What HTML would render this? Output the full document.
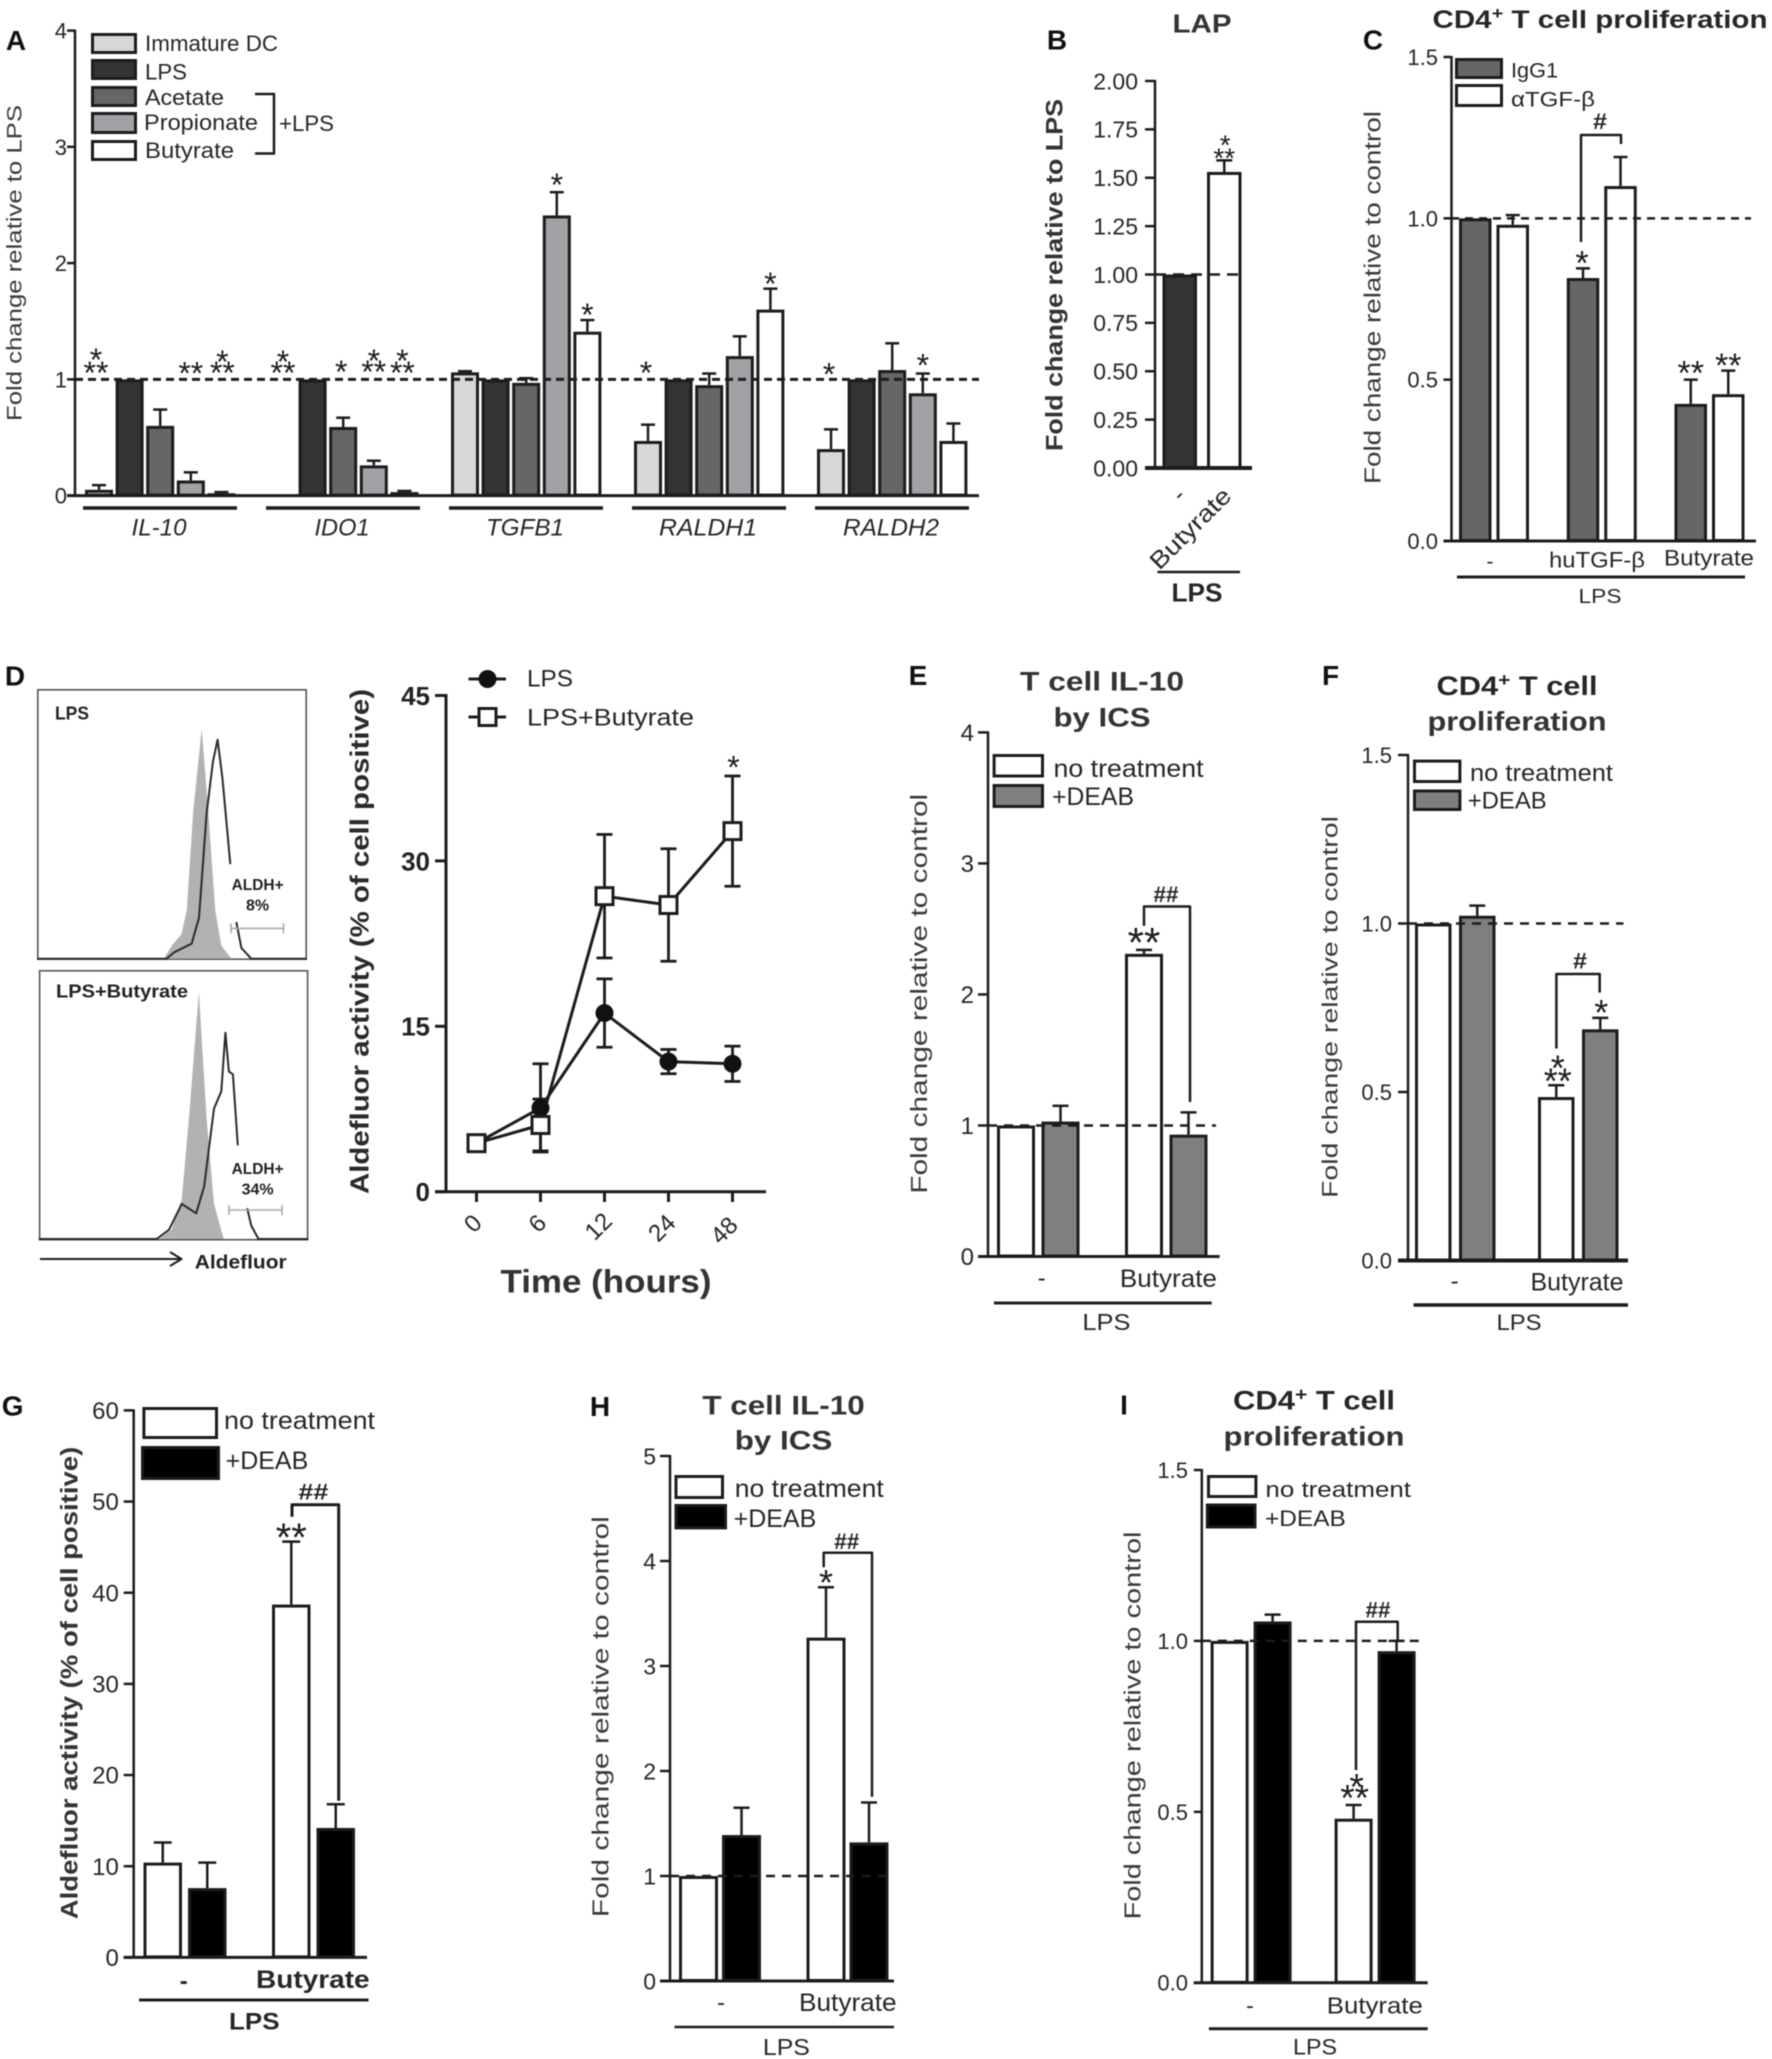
<!DOCTYPE html>
<html lang="en">
<head>
<meta charset="utf-8">
<title>Butyrate effects on dendritic cells and T cells</title>
<style>
html,body{margin:0;padding:0;background:#fff;}
#figure{display:block;width:1772px;height:2059px;filter:blur(0.55px);}
text{font-family:"Liberation Sans",Arial,sans-serif;}
</style>
</head>
<body>
<svg id="figure" xmlns="http://www.w3.org/2000/svg" width="1772" height="2059" viewBox="0 0 1772 2059"></svg>
<script>
/* ---------- DATA ---------- */
const panelAGenes = ['IL-10','IDO1','TGFB1','RALDH1','RALDH2'];
const panelASeries = ['Immature DC','LPS','Acetate','Propionate','Butyrate'];
const panelATicks = [0,1,2,3,4];
const panelAImmature = [0.05,0,1.06,0.47,0.40];
const panelAImmatureErr = [0.04,0,0.01,0.14,0.17];
const panelALps = [1,1,1,1,1];
const panelALpsErr = [0,0,0,0,0];
const panelAAcetate = [0.60,0.59,0.97,0.95,1.08];
const panelAAcetateErr = [0.14,0.08,0.04,0.10,0.23];
const panelAPropionate = [0.13,0.26,2.41,1.20,0.88];
const panelAPropionateErr = [0.07,0.04,0.20,0.17,0.17];
const panelAButyrate = [0.02,0.03,1.41,1.60,0.47];
const panelAButyrateErr = [0.01,0.01,0.10,0.18,0.15];

const panelBCategories = ['-','Butyrate'];
const panelBTicks = [0,0.25,0.5,0.75,1,1.25,1.5,1.75,2];
const panelBTickLabels = ['0.00','0.25','0.50','0.75','1.00','1.25','1.50','1.75','2.00'];
const panelBLps = [1];
const panelBLpsErr = [0];
const panelBButyrate = [1.53];
const panelBButyrateErr = [0.06];

const panelCCategories = ['-','huTGF-β','Butyrate'];
const panelCTicks = [0,0.5,1,1.5];
const panelCTickLabels = ['0.0','0.5','1.0','1.5'];
const panelCIgg = [1,0.815,0.425];
const panelCIggErr = [0,0.03,0.075];
const panelCAnti = [0.98,1.10,0.455];
const panelCAntiErr = [0.03,0.09,0.073];

const panelDTimes = ['0','6','12','24','48'];
const panelDTicks = [0,15,30,45];
const panelDLps = [4.4,7.6,16.2,11.8,11.6];
const panelDLpsErr = [0,4.0,3.1,1.1,1.6];
const panelDBut = [4.4,6.05,26.8,26.0,32.7];
const panelDButErr = [0,2.35,5.6,5.1,5.0];

const histLpsFillInt = [47,50,53.5,55.5,57.8,61,63.5,66,68.3,72];
const histLpsFillCount = [0,5,9,18,54,85,54,18,4.8,0];
const histLpsLineInt = [0,48,50.8,57.3,60,62.8,65.2,66.9,68.7,71.6];
const histLpsLineCount = [0,0,2.4,5.6,15.2,53.7,73,81,66.5,35];
const histLpsTailInt = [73.8,75.7,79.4,100];
const histLpsTailCount = [13.6,4,0,0];
const histButFillInt = [44.6,49.3,53,55.7,59.4,62.2,65,68.6];
const histButFillCount = [0,3.4,14.6,45,91.6,45,13,0];
const histButLineInt = [0,43.7,48.3,53,58.4,61.3,65,67.7,69.2,70.5,72,73.8];
const histButLineCount = [0,0,3.4,13,9.5,19.4,48.3,54.7,76.4,62,61,34.7];
const histButTailInt = [77.3,78.8,81.5,100];
const histButTailCount = [11.4,5,0,0];

const panelECategories = ['-','Butyrate'];
const panelETicks = [0,1,2,3,4];
const panelENone = [1,2.31];
const panelENoneErr = [0,0.03];
const panelEDeab = [1.03,0.93];
const panelEDeabErr = [0.12,0.17];

const panelFCategories = ['-','Butyrate'];
const panelFTicks = [0,0.5,1,1.5];
const panelFTickLabels = ['0.0','0.5','1.0','1.5'];
const panelFNone = [1,0.485];
const panelFNoneErr = [0,0.035];
const panelFDeab = [1.023,0.686];
const panelFDeabErr = [0.03,0.034];

const panelGCategories = ['-','Butyrate'];
const panelGTicks = [0,10,20,30,40,50,60];
const panelGNone = [10.4,38.7];
const panelGNoneErr = [2.2,6.9];
const panelGDeab = [7.6,14.2];
const panelGDeabErr = [2.8,2.6];

const panelHCategories = ['-','Butyrate'];
const panelHTicks = [0,1,2,3,4,5];
const panelHNone = [1,3.27];
const panelHNoneErr = [0,0.48];
const panelHDeab = [1.39,1.32];
const panelHDeabErr = [0.26,0.38];

const panelICategories = ['-','Butyrate'];
const panelITicks = [0,0.5,1,1.5];
const panelITickLabels = ['0.0','0.5','1.0','1.5'];
const panelINone = [1,0.48];
const panelINoneErr = [0,0.04];
const panelIDeab = [1.057,0.97];
const panelIDeabErr = [0.02,0.03];

/* ---------- HELPERS ---------- */
const NS = 'http://www.w3.org/2000/svg';
const root = document.getElementById('figure');
const INK = '#1c1c1c';

function make(tag, name, parent) {
  const el = document.createElementNS(NS, tag);
  
  
  parent.appendChild(el);
  return el;
}
function group(name, parent) { return make('g', name, parent || root); }
function line(p, name, x1, y1, x2, y2, w, dash, color) {
  const el = make('line', name, p);
  el.setAttribute('x1', x1); el.setAttribute('y1', y1);
  el.setAttribute('x2', x2); el.setAttribute('y2', y2);
  el.setAttribute('stroke', color || INK);
  el.setAttribute('stroke-width', w || 2.5);
  if (dash) el.setAttribute('stroke-dasharray', dash);
  return el;
}
function box(p, name, x1, y1, x2, y2, fill, sw, stroke) {
  const s = sw === undefined ? 3 : sw;
  const el = make('rect', name, p);
  el.setAttribute('x', x1 + s / 2); el.setAttribute('y', y1 + s / 2);
  el.setAttribute('width', Math.max(0, x2 - x1 - s)); el.setAttribute('height', Math.max(0, y2 - y1 - s));
  el.setAttribute('fill', fill);
  el.setAttribute('stroke', stroke || INK);
  el.setAttribute('stroke-width', s);
  return el;
}
function poly(p, name, pts, w, fill, color) {
  const el = make('polyline', name, p);
  el.setAttribute('points', pts.map(function (q) { return q[0].toFixed(1) + ',' + q[1].toFixed(1); }).join(' '));
  el.setAttribute('fill', fill || 'none');
  el.setAttribute('stroke', color || INK);
  el.setAttribute('stroke-width', w || 2.5);
  el.setAttribute('stroke-linejoin', 'round');
  return el;
}
function txt(p, name, str, x, y, o) {
  o = o || {};
  const s = o.s || 22;
  const el = make('text', name, p);
  el.textContent = str;
  el.setAttribute('transform', 'translate(' + x + ' ' + y + ') rotate(' + (o.r || 0) + ')');
  el.setAttribute('x', 0);
  el.setAttribute('y', (o.b === undefined ? 0.36 : o.b) * s);
  el.setAttribute('font-size', s);
  el.setAttribute('text-anchor', o.a || 'middle');
  el.setAttribute('fill', o.f || '#262626');
  if (o.w) el.setAttribute('font-weight', o.w);
  if (o.i) el.setAttribute('font-style', 'italic');
  if (o.l) { el.setAttribute('textLength', o.l); el.setAttribute('lengthAdjust', 'spacingAndGlyphs'); }
  return el;
}
function supTitle(p, name, before, sup, after, x, y, s, len) {
  const el = txt(p, name, '', x, y, {s: s, w: 'bold', l: len});
  const t1 = make('tspan', name + '-main', el);
  t1.textContent = before;
  const t2 = make('tspan', name + '-superscript', el);
  t2.textContent = sup;
  t2.setAttribute('dy', -9);
  t2.setAttribute('font-size', s * 0.68);
  const t3 = make('tspan', name + '-rest', el);
  t3.textContent = after;
  t3.setAttribute('dy', 9);
  return el;
}
function panelLetter(p, letter, x, y) {
  txt(p, 'panel-letter-' + letter.toLowerCase(), letter, x, y, {s: 28, w: 'bold', f: '#111'});
}
function star(p, str, cx, cy, size) {
  const s = size || 30;
  txt(p, 'significance-marker', str, cx, cy, {s: s, b: 0.5, f: '#1c1c1c'});
}
function hash(p, str, cx, cy, len) {
  txt(p, 'difference-marker', str, cx, cy, {s: 22, w: 'bold', l: len, f: '#222'});
}
function bracket(p, x1, y1, yTop, x2, y2, w) {
  poly(p, 'comparison-bracket', [[x1, y1], [x1, yTop], [x2, yTop], [x2, y2]], w || 2.5);
}

/* Bar chart with a linear y axis function and a grouped x axis function */
function barChart(c) {
  const g = c.g;
  const y = function (v) { return c.y0 + (c.yTop - c.y0) * v / c.max; };
  const left = function (gi, si) { return c.start + gi * c.groupStep + si * c.barStep; };
  const center = function (gi, si) { return left(gi, si) + c.barW / 2; };
  c.series.forEach(function (s, si) {
    s.values.forEach(function (v, gi) {
      if (v <= 0) return;
      const er = s.errs[gi];
      if (er > 0) {
        const cx = center(gi, si);
        line(g, 'error-bar-' + s.key, cx, y(v), cx, y(v + er), c.errW || 2.5);
        line(g, 'error-cap-' + s.key, cx - c.cap, y(v + er), cx + c.cap, y(v + er), c.errW || 2.5);
      }
      box(g, 'bar-' + s.key, left(gi, si), y(v), left(gi, si) + c.barW, c.y0 + 1, s.fill, c.barSw || 3);
    });
  });
  if (c.dash) line(g, 'reference-line-at-one', c.dash[0], y(1), c.dash[1], y(1), c.dashW || 2.5, c.dashPat || '8 6');
  line(g, 'y-axis', c.axisX, c.yTop - 1, c.axisX, c.y0 + 1, c.axisW || 2.5);
  line(g, 'x-axis', c.axisX - c.tickLen, c.y0, c.axisEnd, c.y0, c.baseW || 3);
  c.ticks.forEach(function (t, i) {
    line(g, 'y-tick', c.axisX - c.tickLen, y(t), c.axisX, y(t), 2.5);
    txt(g, 'y-tick-label', c.tickLabels ? c.tickLabels[i] : String(t), c.labelRight, y(t), {s: c.tickSize, a: 'end', w: c.tickWeight});
  });
  return {
    y: y, left: left, center: center,
    top: function (gi, si) { const s = c.series[si]; return y(s.values[gi] + s.errs[gi]); },
    star: function (gi, si, str, dy, dx) { star(g, str, center(gi, si) + (dx || 0), this.top(gi, si) - dy, c.starSize); }
  };
}
function legendRow(p, key, label, x1, y1, x2, y2, fill, tx, ty, s, len, sw) {
  box(p, 'legend-swatch-' + key, x1, y1, x2, y2, fill, sw === undefined ? 3 : sw);
  txt(p, 'legend-label-' + key, label, tx, ty, {s: s, a: 'start', l: len});
}

/* ---------- PANEL A ---------- */
(function () {
  const g = group('panel-a');
  const fills = ['#d7d7d7','#333333','#666666','#a1a1a6','#ffffff'];
  const keys = ['immature-dc','lps','acetate','propionate','butyrate'];
  const vals = [panelAImmature, panelALps, panelAAcetate, panelAPropionate, panelAButyrate];
  const errs = [panelAImmatureErr, panelALpsErr, panelAAcetateErr, panelAPropionateErr, panelAButyrateErr];
  const c = barChart({
    g: g, y0: 495.6, yTop: 30.6, max: 4, axisX: 75, axisEnd: 979, tickLen: 8,
    ticks: panelATicks, tickSize: 22, labelRight: 67, starSize: 32,
    start: 85, groupStep: 183, barStep: 30.6, barW: 28, cap: 7, errW: 2.5,
    dash: [75, 979], dashW: 3, dashPat: '8 5',
    series: panelASeries.map(function (n, i) { return {key: keys[i], fill: fills[i], values: vals[i], errs: errs[i]}; })
  });
  c.star(0,0,'*',130,-3); c.star(0,0,'**',117,-3);
  c.star(0,3,'**',104);
  c.star(0,4,'*',135,1); c.star(0,4,'**',124,1);
  c.star(1,0,'*',138.6,1); c.star(1,0,'**',127.6,1);
  c.star(1,2,'*',50.7,-2);
  c.star(1,3,'*',104.7); c.star(1,3,'**',93.7);
  c.star(1,4,'*',135,-2); c.star(1,4,'**',123,-2);
  c.star(2,3,'*',12); c.star(2,4,'*',10);
  c.star(3,0,'*',56.7,-2); c.star(3,4,'*',9.7);
  c.star(4,0,'*',60,-2); c.star(4,3,'*',13);
  const labelLen = [55,55,78,98,96];
  panelAGenes.forEach(function (name, i) {
    const s = c.left(i, 0);
    line(g, 'gene-group-line', s - 2, 508, s + 152, 508, 3.5);
    txt(g, 'gene-label', name, s + 74, 527, {s: 24, i: true, l: labelLen[i]});
  });
  txt(g, 'y-axis-title', 'Fold change relative to LPS', 14, 263, {s: 21, r: -90, l: 316, f: '#3a3a3a'});
  panelLetter(g, 'A', 16, 40);
  legendRow(g,'immature-dc','Immature DC',91,33,137,54,fills[0],145,43,22,133);
  legendRow(g,'lps','LPS',91,59,137,80,fills[1],145,71.5,22,42);
  legendRow(g,'acetate','Acetate',91,86,137,107,fills[2],145,97,22,79);
  legendRow(g,'propionate','Propionate',91,112,137,134,fills[3],144,122,22,114);
  legendRow(g,'butyrate','Butyrate',91,140,137,161,fills[4],145,150,22,89);
  poly(g,'legend-lps-bracket',[[255,94],[274,94],[274,153.5],[255,153.5]],2.5);
  txt(g,'legend-lps-bracket-label','+LPS',279,123,{s:22,a:'start',l:55});
})();

/* ---------- PANEL B ---------- */
(function () {
  const g = group('panel-b');
  const c = barChart({
    g: g, y0: 468, yTop: 81, max: 2, axisX: 1155, axisEnd: 1252, tickLen: 10,
    ticks: panelBTicks, tickLabels: panelBTickLabels, tickSize: 23, labelRight: 1138, starSize: 28,
    start: 1162.5, groupStep: 0, barStep: 44.5, barW: 34.5, cap: 8, baseW: 4,
    dash: [1155, 1244], dashPat: '11 7',
    series: [
      {key: 'lps', fill: '#333333', values: panelBLps, errs: panelBLpsErr},
      {key: 'butyrate', fill: '#ffffff', values: panelBButyrate, errs: panelBButyrateErr}
    ]
  });
  c.star(0,1,'*',20,1); c.star(0,1,'**',7,0);
  txt(g,'category-label',panelBCategories[0],1178,494,{s:24,r:-45});
  txt(g,'category-label',panelBCategories[1],1190,528,{s:24,r:-45,l:104});
  line(g,'lps-group-line',1157.5,572,1240,572,2.5);
  txt(g,'lps-group-label','LPS',1197,592,{s:26,w:'bold',l:51});
  txt(g,'y-axis-title','Fold change relative to LPS',1054,275,{s:24,r:-90,w:'bold',l:352,f:'#333'});
  txt(g,'chart-title','LAP',1202,23,{s:26,l:59,w:'bold',f:'#333'});
  panelLetter(g,'B',1057,39.5);
})();

/* ---------- PANEL C ---------- */
(function () {
  const g = group('panel-c');
  const c = barChart({
    g: g, y0: 541, yTop: 57, max: 1.5, axisX: 1451.5, axisEnd: 1756, tickLen: 8,
    ticks: panelCTicks, tickLabels: panelCTickLabels, tickSize: 22, labelRight: 1438, starSize: 34,
    start: 1459, groupStep: 107.75, barStep: 37.5, barW: 32.5, cap: 7,
    dash: [1451, 1751],
    series: [
      {key: 'igg1', fill: '#666666', values: panelCIgg, errs: panelCIggErr},
      {key: 'anti-tgf-beta', fill: '#ffffff', values: panelCAnti, errs: panelCAntiErr}
    ]
  });
  c.star(1,0,'*',11,-1);
  c.star(2,0,'**',12); c.star(2,1,'**',10.6);
  const top1 = c.top(1,1);
  bracket(g,1581,242,top1-22,1621,top1-13);
  hash(g,'#',1600,top1-36,14);
  txt(g,'category-label',panelCCategories[0],1490,561,{s:21});
  txt(g,'category-label',panelCCategories[1],1597,559.5,{s:22,l:96});
  txt(g,'category-label',panelCCategories[2],1709,557.5,{s:22,l:90});
  line(g,'lps-group-line',1457,577,1745,577,3);
  txt(g,'lps-group-label','LPS',1600,596,{s:20,l:43});
  txt(g,'y-axis-title','Fold change  relative to control',1372,297.5,{s:23,r:-90,l:373,f:'#3a3a3a'});
  supTitle(g,'chart-title','CD4','+',' T cell proliferation',1600,19,25,335);
  panelLetter(g,'C',1373,39.5);
  legendRow(g,'igg1','IgG1',1455,58,1503,79,'#666666',1511,70,21,47);
  legendRow(g,'anti-tgf-beta','αTGF-β',1455,84,1503,107,'#ffffff',1511,99,21,84);
})();

/* ---------- PANEL D : flow histograms ---------- */
(function () {
  const g = group('panel-d');
  function hist(name, bx, by, bw, bh, base, unit, fi, fc, li, lc, ti, tc, title, titleX, titleY, titleLen, pct, aY, pY, gx1, gx2, gy) {
    const h = group(name, g);
    box(h, 'histogram-frame', bx, by, bx + bw, by + bh, '#ffffff', 1.6, '#555');
    const hx = function (v) { return bx + v * bw / 100; };
    const hy = function (c) { return base - c * unit; };
    const fillEl = make('polygon', 'isotype-histogram-fill', h);
    fillEl.setAttribute('points', fi.map(function (v, i) { return hx(v).toFixed(1) + ',' + hy(fc[i]).toFixed(1); }).join(' '));
    fillEl.setAttribute('fill', '#b2b2b2');
    poly(h, 'aldefluor-histogram-line', li.map(function (v, i) { return [hx(v), hy(lc[i])]; }), 2, 'none', '#2a2a2a');
    poly(h, 'aldefluor-histogram-tail', ti.map(function (v, i) { return [hx(v), hy(tc[i])]; }), 2, 'none', '#2a2a2a');
    txt(h, 'histogram-title', title, titleX, titleY, {s: 18, w: 'bold', l: titleLen, f: '#222'});
    txt(h, 'gate-label', 'ALDH+', 257.6, aY, {s: 16, w: 'bold', l: 52, f: '#222'});
    txt(h, 'gate-percent', pct, 257.6, pY, {s: 16, w: 'bold', f: '#222'});
    line(h, 'gate-line', gx1, gy, gx2, gy, 1.6, null, '#aaa');
    line(h, 'gate-cap-left', gx1, gy - 5, gx1, gy + 5, 1.6, null, '#aaa');
    line(h, 'gate-cap-right', gx2, gy - 5, gx2, gy + 5, 1.6, null, '#aaa');
  }
  hist('histogram-lps', 37, 689, 270, 271, 958.8, 2.706,
    histLpsFillInt, histLpsFillCount, histLpsLineInt, histLpsLineCount, histLpsTailInt, histLpsTailCount,
    'LPS', 72, 713, 34, '8%', 884, 904.5, 231, 283.5, 928.4);
  hist('histogram-lps-butyrate', 38.8, 970, 269.6, 270.5, 1239, 2.70,
    histButFillInt, histButFillCount, histButLineInt, histButLineCount, histButTailInt, histButTailCount,
    'LPS+Butyrate', 122, 991, 132, '34%', 1168, 1188.6, 229, 282, 1210);
  line(g,'aldefluor-arrow-shaft',40,1259,181,1259,2);
  poly(g,'aldefluor-arrow-head',[[170,1252],[181.5,1259],[170,1266]],2);
  txt(g,'aldefluor-axis-label','Aldefluor',240.7,1261.5,{s:19,w:'bold',l:92,f:'#222'});
  panelLetter(g,'D',15,675.5);
})();

/* ---------- PANEL D : time course ---------- */
(function () {
  const g = group('panel-d-time-course');
  const y = function (v) { return 1191.7 - v * 11.027; };
  const x = function (i) { return 476.5 + i * 64; };
  const labelPos = [[472.5,1223],[537,1223],[598,1226],[661.5,1227.6],[723.7,1230]];
  function errs(vals, er, key) {
    vals.forEach(function (v, i) {
      if (er[i] <= 0) return;
      line(g, 'error-bar-' + key, x(i), y(v - er[i]), x(i), y(v + er[i]), 2.8);
      line(g, 'error-cap-' + key, x(i) - 8, y(v + er[i]), x(i) + 8, y(v + er[i]), 2.8);
      line(g, 'error-cap-' + key, x(i) - 8, y(v - er[i]), x(i) + 8, y(v - er[i]), 2.8);
    });
  }
  errs(panelDLps, panelDLpsErr, 'lps');
  errs(panelDBut, panelDButErr, 'lps-butyrate');
  poly(g,'series-line-lps',panelDLps.map(function (v,i){return [x(i),y(v)];}),3);
  poly(g,'series-line-lps-butyrate',panelDBut.map(function (v,i){return [x(i),y(v)];}),3);
  function circle(cx, cy, name) {
    const el = make('circle', name, g);
    el.setAttribute('cx', cx); el.setAttribute('cy', cy); el.setAttribute('r', 9);
    el.setAttribute('fill', '#111');
  }
  function square(cx, cy, name) {
    box(g, name, cx - 10, cy - 10, cx + 10, cy + 10, '#ffffff', 3);
  }
  panelDLps.forEach(function (v, i) { circle(x(i), y(v), 'point-lps'); });
  panelDBut.forEach(function (v, i) { square(x(i), y(v), 'point-lps-butyrate'); });
  line(g,'y-axis',446,694,446,1193,3);
  line(g,'x-axis',435,1191.7,766,1191.7,3);
  panelDTicks.forEach(function (t) {
    line(g,'y-tick',435,y(t),446,y(t),3);
    txt(g,'y-tick-label',String(t),430,y(t),{s:26,a:'end',w:'bold',f:'#222'});
  });
  panelDTimes.forEach(function (t, i) {
    line(g,'x-tick',x(i),1191.7,x(i),1202,3);
    txt(g,'x-tick-label',t,labelPos[i][0],labelPos[i][1],{s:24,r:-45});
  });
  star(g,'*',x(4)+1,y(panelDBut[4]+panelDButErr[4])-13.5,32);
  txt(g,'y-axis-title','Aldefluor activity (% of cell positive)',359,941.5,{s:26,r:-90,w:'bold',l:505,f:'#2a2a2a'});
  txt(g,'x-axis-title','Time (hours)',606,1281,{s:32,w:'bold',l:211,f:'#333'});
  line(g,'legend-line-lps',468.5,679,506,679,3);
  circle(487.5,679,'legend-marker-lps');
  txt(g,'legend-label-lps','LPS',527,678,{s:24,a:'start',l:46});
  line(g,'legend-line-lps-butyrate',468.5,717,506,717,3);
  square(487.5,717,'legend-marker-lps-butyrate');
  txt(g,'legend-label-lps-butyrate','LPS+Butyrate',527,717,{s:24,a:'start',l:167});
})();

/* ---------- PANEL E ---------- */
(function () {
  const g = group('panel-e');
  const c = barChart({
    g: g, y0: 1256.5, yTop: 732.4, max: 4, axisX: 988, axisEnd: 1219.6, tickLen: 10,
    ticks: panelETicks, tickSize: 24, labelRight: 974, starSize: 42,
    start: 997, groupStep: 128, barStep: 44.5, barW: 38, cap: 8,
    dash: [988, 1216], dashPat: '9 7',
    series: [
      {key: 'no-treatment', fill: '#ffffff', values: panelENone, errs: panelENoneErr},
      {key: 'deab', fill: '#7f7f7f', values: panelEDeab, errs: panelEDeabErr}
    ]
  });
  c.star(1,0,'**',14);
  const tp = c.top(1,0);
  bracket(g,1144,tp-24,tp-43.4,1190,1102);
  hash(g,'##',1166,tp-56,25);
  txt(g,'category-label',panelECategories[0],1041.6,1277.5,{s:24});
  txt(g,'category-label',panelECategories[1],1168.4,1278,{s:25,l:97});
  line(g,'lps-group-line',994,1303,1211.7,1303,3);
  txt(g,'lps-group-label','LPS',1106.4,1321.7,{s:23,l:48});
  txt(g,'y-axis-title','Fold change relative to control',918.7,993.8,{s:23,r:-90,l:400,f:'#3a3a3a'});
  txt(g,'chart-title-line-1','T cell IL-10',1102,681,{s:27,w:'bold',l:164,f:'#333'});
  txt(g,'chart-title-line-2','by ICS',1102,717,{s:27,w:'bold',l:97,f:'#333'});
  panelLetter(g,'E',918,675);
  legendRow(g,'no-treatment','no treatment',992.6,754,1044,777.5,'#ffffff',1053.5,768,25,150);
  legendRow(g,'deab','+DEAB',992.6,784,1044,808,'#7f7f7f',1052,796,25,82);
})();

/* ---------- PANEL F ---------- */
(function () {
  const g = group('panel-f');
  const c = barChart({
    g: g, y0: 1260.5, yTop: 755, max: 1.5, axisX: 1408, axisEnd: 1628, tickLen: 10,
    ticks: panelFTicks, tickLabels: panelFTickLabels, tickSize: 22, labelRight: 1392, starSize: 36,
    start: 1415, groupStep: 123, barStep: 44, barW: 36.5, cap: 8, baseW: 4,
    dash: [1408, 1623.5], dashPat: '9 7',
    series: [
      {key: 'no-treatment', fill: '#ffffff', values: panelFNone, errs: panelFNoneErr},
      {key: 'deab', fill: '#7f7f7f', values: panelFDeab, errs: panelFDeabErr}
    ]
  });
  c.star(1,0,'*',23,1.5); c.star(1,0,'**',10,1.5);
  c.star(1,1,'*',11,1);
  bracket(g,1556.4,1048.5,974,1599.7,992.6);
  hash(g,'#',1580,960.5,14);
  txt(g,'category-label',panelFCategories[0],1454.6,1280.6,{s:24});
  txt(g,'category-label',panelFCategories[1],1577,1281.5,{s:25,l:93});
  line(g,'lps-group-line',1413.6,1305,1628,1305,3.5);
  txt(g,'lps-group-label','LPS',1519,1322,{s:22,l:45});
  txt(g,'y-axis-title','Fold change relative to control',1329.4,1007,{s:22,r:-90,l:382,f:'#3a3a3a'});
  supTitle(g,'chart-title-line-1','CD4','+',' T cell',1517,685.5,27,161);
  txt(g,'chart-title-line-2','proliferation',1517,721,{s:27,w:'bold',l:179,f:'#333'});
  panelLetter(g,'F',1330.6,675);
  legendRow(g,'no-treatment','no treatment',1413,759.6,1461.4,783,'#ffffff',1470,772.6,24,143);
  legendRow(g,'deab','+DEAB',1413,789.5,1461.4,811,'#7f7f7f',1467.7,800,24,79);
})();

/* ---------- PANEL G ---------- */
(function () {
  const g = group('panel-g');
  const c = barChart({
    g: g, y0: 1957.4, yTop: 1410.4, max: 60, axisX: 133.7, axisEnd: 367, tickLen: 10,
    ticks: panelGTicks, tickSize: 24, labelRight: 118.8, starSize: 40,
    start: 143.5, groupStep: 128.5, barStep: 44.5, barW: 38.5, cap: 9,
    series: [
      {key: 'no-treatment', fill: '#ffffff', values: panelGNone, errs: panelGNoneErr},
      {key: 'deab', fill: '#000000', values: panelGDeab, errs: panelGDeabErr}
    ]
  });
  c.star(1,0,'**',10.5);
  const tp = c.top(1,0);
  bracket(g,292,tp-25,tp-37,338.7,tp+259,3);
  hash(g,'##',313.4,tp-50,30);
  txt(g,'category-label',panelGCategories[0],183.7,1980.6,{s:24,w:'bold'});
  txt(g,'category-label',panelGCategories[1],312.8,1978.8,{s:25,w:'bold',l:113.6});
  line(g,'lps-group-line',139,2000,368.5,2000,3);
  txt(g,'lps-group-label','LPS',254.3,2021,{s:24,w:'bold',l:50.5});
  txt(g,'y-axis-title','Aldefluor activity (% of cell positive)',69,1683,{s:24,r:-90,w:'bold',l:472.5,f:'#333'});
  panelLetter(g,'G',12.6,1405.5);
  legendRow(g,'no-treatment','no treatment',142.4,1407,218,1439,'#ffffff',224,1420,25,151);
  legendRow(g,'deab','+DEAB',141,1446,220,1480,'#000000',225.6,1460,25,82.7);
})();

/* ---------- PANEL H ---------- */
(function () {
  const g = group('panel-h');
  const c = barChart({
    g: g, y0: 1981, yTop: 1456, max: 5, axisX: 670, axisEnd: 894, tickLen: 10,
    ticks: panelHTicks, tickSize: 23, labelRight: 656, starSize: 36,
    start: 679, groupStep: 127.5, barStep: 43, barW: 39, cap: 8,
    dash: [670, 894], dashPat: '9 7',
    series: [
      {key: 'no-treatment', fill: '#ffffff', values: panelHNone, errs: panelHNoneErr},
      {key: 'deab', fill: '#000000', values: panelHDeab, errs: panelHDeabErr}
    ]
  });
  c.star(1,0,'*',10.5);
  const tp = c.top(1,0);
  bracket(g,823.7,tp-20,tp-34.5,872,tp+209.5);
  hash(g,'##',846.7,tp-46,25);
  txt(g,'category-label',panelHCategories[0],721,2002,{s:24});
  txt(g,'category-label',panelHCategories[1],847.8,2002,{s:25,l:97.6});
  line(g,'lps-group-line',674.5,2027,894,2027,2.5);
  txt(g,'lps-group-label','LPS',786.4,2046.5,{s:23,l:47});
  txt(g,'y-axis-title','Fold change relative to control',600,1716.7,{s:23,r:-90,l:401,f:'#3a3a3a'});
  txt(g,'chart-title-line-1','T cell IL-10',783.5,1404.6,{s:27,w:'bold',l:162.4,f:'#333'});
  txt(g,'chart-title-line-2','by ICS',783.5,1440,{s:27,w:'bold',l:97.6,f:'#333'});
  panelLetter(g,'H',600,1406);
  legendRow(g,'no-treatment','no treatment',674.5,1475,724,1499,'#ffffff',734.7,1488,25,149);
  legendRow(g,'deab','+DEAB',674.5,1504,727,1529.4,'#000000',733.6,1518,25,82.7);
})();

/* ---------- PANEL I ---------- */
(function () {
  const g = group('panel-i');
  const c = barChart({
    g: g, y0: 1982.8, yTop: 1470, max: 1.5, axisX: 1201.8, axisEnd: 1427.7, tickLen: 8,
    ticks: panelITicks, tickLabels: panelITickLabels, tickSize: 22, labelRight: 1188, starSize: 37,
    start: 1210.6, groupStep: 124, barStep: 43, barW: 38, cap: 8,
    dash: [1201.8, 1422], dashPat: '9 7',
    series: [
      {key: 'no-treatment', fill: '#ffffff', values: panelINone, errs: panelINoneErr},
      {key: 'deab', fill: '#000000', values: panelIDeab, errs: panelIDeabErr}
    ]
  });
  c.star(1,0,'*',24,3); c.star(1,0,'**',13,1);
  bracket(g,1356,1770,1621.7,1397.7,1641.7);
  hash(g,'##',1378,1609.6,25);
  txt(g,'category-label',panelICategories[0],1250,2005,{s:23});
  txt(g,'category-label',panelICategories[1],1374.8,2005,{s:23,l:96});
  line(g,'lps-group-line',1208.9,2028.7,1427.7,2028.7,3);
  txt(g,'lps-group-label','LPS',1315,2046.5,{s:22,l:44});
  txt(g,'y-axis-title','Fold change relative to control',1132,1725.5,{s:23,r:-90,l:388,f:'#3a3a3a'});
  supTitle(g,'chart-title-line-1','CD4','+',' T cell',1314,1400,27,162);
  txt(g,'chart-title-line-2','proliferation',1314,1436,{s:27,w:'bold',l:181,f:'#333'});
  panelLetter(g,'I',1124,1404.6);
  legendRow(g,'no-treatment','no treatment',1207,1475,1257.4,1498,'#ffffff',1265.4,1489.3,22,145.6);
  legendRow(g,'deab','+DEAB',1205.8,1503.5,1256.5,1528.5,'#000000',1265,1518,22,80.8);
})();
</script>
</body>
</html>
